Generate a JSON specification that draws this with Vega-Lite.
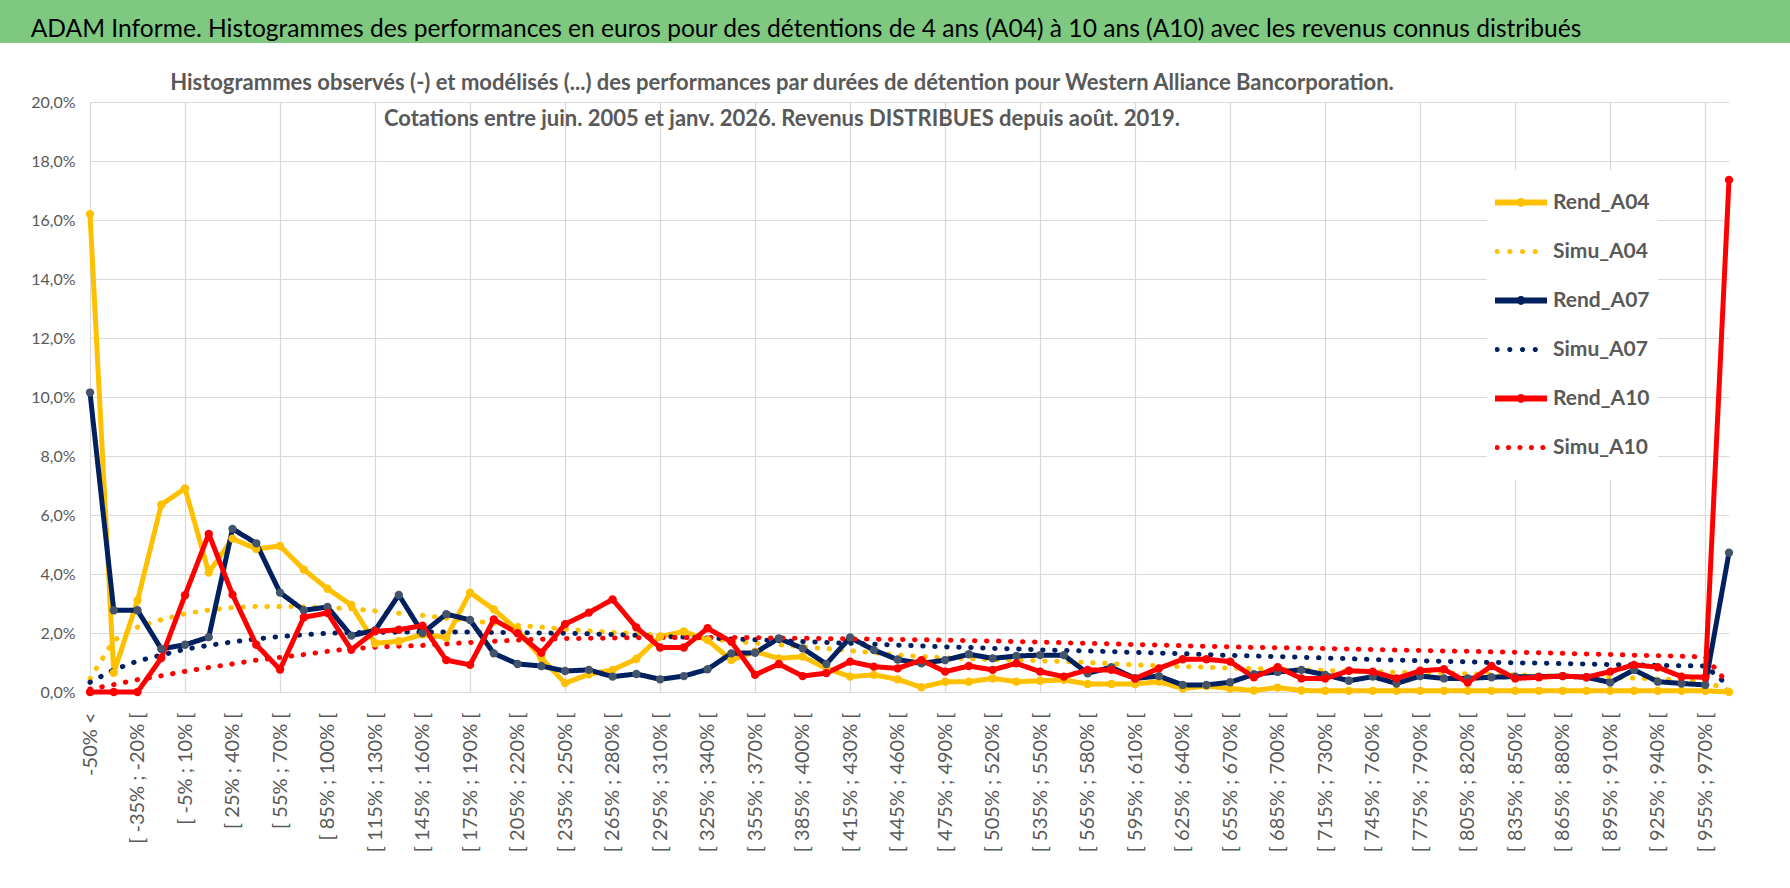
{
  "$schema": "https://vega.github.io/schema/vega-lite/v6.json",
  "padding": 0,
  "background": "white",
  "bounds": "flush",
  "spacing": 59,
  "config": {
    "view": {"stroke": null},
    "font": "Lato"
  },
  "vconcat": [
    {
      "width": 1790,
      "height": 43,
      "view": {"fill": "#7ec87f", "stroke": null},
      "data": {"values": [{"titre": "ADAM Informe. Histogrammes des performances en euros pour des détentions de 4 ans (A04) à 10 ans (A10) avec les revenus connus distribués"}]},
      "mark": {"type": "text", "font": "Lato", "fontSize": 24.6, "color": "#000000", "baseline": "alphabetic", "dx": -89, "dy": 15},
      "encoding": {"text": {"field": "titre"}}
    },
    {
      "width": 1790,
      "height": 590,
      "title": {
        "text": [
          "Histogrammes observés (-) et modélisés (...) des performances par durées de détention pour Western Alliance Bancorporation.",
          "Cotations entre juin. 2005 et janv. 2026. Revenus DISTRIBUES depuis août. 2019."
        ],
        "font": "Lato",
        "fontSize": 22,
        "fontWeight": "bold",
        "color": "#595959",
        "anchor": "middle",
        "frame": "group",
        "dx": -113,
        "dy": 59,
        "offset": 0,
        "baseline": "bottom",
        "lineHeight": 36
      },
      "data": {
        "values": [
          {"tranche": "-50% <", "Rend_A04": 16.2, "Simu_A04": 0.45, "Rend_A07": 10.15, "Simu_A07": 0.33, "Rend_A10": 0, "Simu_A10": 0.1},
          {"tranche": "[ -50% ; -35% [", "Rend_A04": 0.65, "Simu_A04": 1.75, "Rend_A07": 2.77, "Simu_A07": 0.75, "Rend_A10": 0, "Simu_A10": 0.25},
          {"tranche": "[ -35% ; -20% [", "Rend_A04": 3.1, "Simu_A04": 2.2, "Rend_A07": 2.77, "Simu_A07": 1.05, "Rend_A10": 0, "Simu_A10": 0.42},
          {"tranche": "[ -20% ; -5% [", "Rend_A04": 6.35, "Simu_A04": 2.45, "Rend_A07": 1.46, "Simu_A07": 1.25, "Rend_A10": 1.15, "Simu_A10": 0.55},
          {"tranche": "[ -5% ; 10% [", "Rend_A04": 6.9, "Simu_A04": 2.65, "Rend_A07": 1.6, "Simu_A07": 1.45, "Rend_A10": 3.28, "Simu_A10": 0.7},
          {"tranche": "[ 10% ; 25% [", "Rend_A04": 4.05, "Simu_A04": 2.78, "Rend_A07": 1.86, "Simu_A07": 1.58, "Rend_A10": 5.36, "Simu_A10": 0.83},
          {"tranche": "[ 25% ; 40% [", "Rend_A04": 5.2, "Simu_A04": 2.86, "Rend_A07": 5.53, "Simu_A07": 1.7, "Rend_A10": 3.3, "Simu_A10": 0.95},
          {"tranche": "[ 40% ; 55% [", "Rend_A04": 4.85, "Simu_A04": 2.9, "Rend_A07": 5.04, "Simu_A07": 1.8, "Rend_A10": 1.6, "Simu_A10": 1.08},
          {"tranche": "[ 55% ; 70% [", "Rend_A04": 4.95, "Simu_A04": 2.9, "Rend_A07": 3.37, "Simu_A07": 1.88, "Rend_A10": 0.76, "Simu_A10": 1.17},
          {"tranche": "[ 70% ; 85% [", "Rend_A04": 4.15, "Simu_A04": 2.89, "Rend_A07": 2.77, "Simu_A07": 1.94, "Rend_A10": 2.53, "Simu_A10": 1.27},
          {"tranche": "[ 85% ; 100% [", "Rend_A04": 3.5, "Simu_A04": 2.86, "Rend_A07": 2.88, "Simu_A07": 1.99, "Rend_A10": 2.68, "Simu_A10": 1.38},
          {"tranche": "[ 100% ; 115% [", "Rend_A04": 2.95, "Simu_A04": 2.82, "Rend_A07": 1.91, "Simu_A07": 2.01, "Rend_A10": 1.43, "Simu_A10": 1.47},
          {"tranche": "[ 115% ; 130% [", "Rend_A04": 1.65, "Simu_A04": 2.75, "Rend_A07": 2.09, "Simu_A07": 2.02, "Rend_A10": 2.06, "Simu_A10": 1.52},
          {"tranche": "[ 130% ; 145% [", "Rend_A04": 1.72, "Simu_A04": 2.67, "Rend_A07": 3.29, "Simu_A07": 2.03, "Rend_A10": 2.11, "Simu_A10": 1.55},
          {"tranche": "[ 145% ; 160% [", "Rend_A04": 1.95, "Simu_A04": 2.6, "Rend_A07": 2.0, "Simu_A07": 2.03, "Rend_A10": 2.25, "Simu_A10": 1.58},
          {"tranche": "[ 160% ; 175% [", "Rend_A04": 1.85, "Simu_A04": 2.5, "Rend_A07": 2.64, "Simu_A07": 2.03, "Rend_A10": 1.08, "Simu_A10": 1.63},
          {"tranche": "[ 175% ; 190% [", "Rend_A04": 3.37, "Simu_A04": 2.42, "Rend_A07": 2.44, "Simu_A07": 2.03, "Rend_A10": 0.92, "Simu_A10": 1.68},
          {"tranche": "[ 190% ; 205% [", "Rend_A04": 2.8, "Simu_A04": 2.33, "Rend_A07": 1.31, "Simu_A07": 2.02, "Rend_A10": 2.46, "Simu_A10": 1.72},
          {"tranche": "[ 205% ; 220% [", "Rend_A04": 2.1, "Simu_A04": 2.26, "Rend_A07": 0.95, "Simu_A07": 2.01, "Rend_A10": 1.99, "Simu_A10": 1.76},
          {"tranche": "[ 220% ; 235% [", "Rend_A04": 1.15, "Simu_A04": 2.2, "Rend_A07": 0.88, "Simu_A07": 2.0, "Rend_A10": 1.33, "Simu_A10": 1.79},
          {"tranche": "[ 235% ; 250% [", "Rend_A04": 0.3, "Simu_A04": 2.13, "Rend_A07": 0.71, "Simu_A07": 1.99, "Rend_A10": 2.3, "Simu_A10": 1.81},
          {"tranche": "[ 250% ; 265% [", "Rend_A04": 0.6, "Simu_A04": 2.07, "Rend_A07": 0.75, "Simu_A07": 1.97, "Rend_A10": 2.69, "Simu_A10": 1.82},
          {"tranche": "[ 265% ; 280% [", "Rend_A04": 0.75, "Simu_A04": 2.02, "Rend_A07": 0.52, "Simu_A07": 1.95, "Rend_A10": 3.14, "Simu_A10": 1.83},
          {"tranche": "[ 280% ; 295% [", "Rend_A04": 1.12, "Simu_A04": 1.98, "Rend_A07": 0.61, "Simu_A07": 1.92, "Rend_A10": 2.19, "Simu_A10": 1.84},
          {"tranche": "[ 295% ; 310% [", "Rend_A04": 1.88, "Simu_A04": 1.93, "Rend_A07": 0.43, "Simu_A07": 1.89, "Rend_A10": 1.51, "Simu_A10": 1.85},
          {"tranche": "[ 310% ; 325% [", "Rend_A04": 2.05, "Simu_A04": 1.87, "Rend_A07": 0.54, "Simu_A07": 1.86, "Rend_A10": 1.51, "Simu_A10": 1.85},
          {"tranche": "[ 325% ; 340% [", "Rend_A04": 1.76, "Simu_A04": 1.8, "Rend_A07": 0.77, "Simu_A07": 1.83, "Rend_A10": 2.16, "Simu_A10": 1.85},
          {"tranche": "[ 340% ; 355% [", "Rend_A04": 1.08, "Simu_A04": 1.72, "Rend_A07": 1.31, "Simu_A07": 1.8, "Rend_A10": 1.7, "Simu_A10": 1.85},
          {"tranche": "[ 355% ; 370% [", "Rend_A04": 1.37, "Simu_A04": 1.66, "Rend_A07": 1.33, "Simu_A07": 1.77, "Rend_A10": 0.58, "Simu_A10": 1.84},
          {"tranche": "[ 370% ; 385% [", "Rend_A04": 1.14, "Simu_A04": 1.6, "Rend_A07": 1.82, "Simu_A07": 1.74, "Rend_A10": 0.95, "Simu_A10": 1.83},
          {"tranche": "[ 385% ; 400% [", "Rend_A04": 1.2, "Simu_A04": 1.53, "Rend_A07": 1.48, "Simu_A07": 1.71, "Rend_A10": 0.54, "Simu_A10": 1.82},
          {"tranche": "[ 400% ; 415% [", "Rend_A04": 0.8, "Simu_A04": 1.47, "Rend_A07": 0.95, "Simu_A07": 1.68, "Rend_A10": 0.64, "Simu_A10": 1.81},
          {"tranche": "[ 415% ; 430% [", "Rend_A04": 0.52, "Simu_A04": 1.4, "Rend_A07": 1.85, "Simu_A07": 1.65, "Rend_A10": 1.03, "Simu_A10": 1.8},
          {"tranche": "[ 430% ; 445% [", "Rend_A04": 0.58, "Simu_A04": 1.33, "Rend_A07": 1.42, "Simu_A07": 1.62, "Rend_A10": 0.86, "Simu_A10": 1.79},
          {"tranche": "[ 445% ; 460% [", "Rend_A04": 0.43, "Simu_A04": 1.25, "Rend_A07": 1.1, "Simu_A07": 1.59, "Rend_A10": 0.8, "Simu_A10": 1.78},
          {"tranche": "[ 460% ; 475% [", "Rend_A04": 0.16, "Simu_A04": 1.2, "Rend_A07": 0.97, "Simu_A07": 1.56, "Rend_A10": 1.08, "Simu_A10": 1.77},
          {"tranche": "[ 475% ; 490% [", "Rend_A04": 0.35, "Simu_A04": 1.16, "Rend_A07": 1.08, "Simu_A07": 1.53, "Rend_A10": 0.69, "Simu_A10": 1.76},
          {"tranche": "[ 490% ; 505% [", "Rend_A04": 0.35, "Simu_A04": 1.13, "Rend_A07": 1.28, "Simu_A07": 1.51, "Rend_A10": 0.88, "Simu_A10": 1.74},
          {"tranche": "[ 505% ; 520% [", "Rend_A04": 0.46, "Simu_A04": 1.1, "Rend_A07": 1.14, "Simu_A07": 1.48, "Rend_A10": 0.75, "Simu_A10": 1.73},
          {"tranche": "[ 520% ; 535% [", "Rend_A04": 0.35, "Simu_A04": 1.08, "Rend_A07": 1.22, "Simu_A07": 1.46, "Rend_A10": 0.97, "Simu_A10": 1.71},
          {"tranche": "[ 535% ; 550% [", "Rend_A04": 0.38, "Simu_A04": 1.06, "Rend_A07": 1.25, "Simu_A07": 1.43, "Rend_A10": 0.69, "Simu_A10": 1.69},
          {"tranche": "[ 550% ; 565% [", "Rend_A04": 0.41, "Simu_A04": 1.03, "Rend_A07": 1.25, "Simu_A07": 1.41, "Rend_A10": 0.52, "Simu_A10": 1.67},
          {"tranche": "[ 565% ; 580% [", "Rend_A04": 0.27, "Simu_A04": 1.0, "Rend_A07": 0.63, "Simu_A07": 1.39, "Rend_A10": 0.75, "Simu_A10": 1.65},
          {"tranche": "[ 580% ; 595% [", "Rend_A04": 0.27, "Simu_A04": 0.96, "Rend_A07": 0.84, "Simu_A07": 1.37, "Rend_A10": 0.75, "Simu_A10": 1.63},
          {"tranche": "[ 595% ; 610% [", "Rend_A04": 0.27, "Simu_A04": 0.92, "Rend_A07": 0.46, "Simu_A07": 1.34, "Rend_A10": 0.46, "Simu_A10": 1.61},
          {"tranche": "[ 610% ; 625% [", "Rend_A04": 0.35, "Simu_A04": 0.89, "Rend_A07": 0.54, "Simu_A07": 1.32, "Rend_A10": 0.8, "Simu_A10": 1.59},
          {"tranche": "[ 625% ; 640% [", "Rend_A04": 0.12, "Simu_A04": 0.86, "Rend_A07": 0.24, "Simu_A07": 1.3, "Rend_A10": 1.11, "Simu_A10": 1.57},
          {"tranche": "[ 640% ; 655% [", "Rend_A04": 0.2, "Simu_A04": 0.84, "Rend_A07": 0.24, "Simu_A07": 1.27, "Rend_A10": 1.11, "Simu_A10": 1.55},
          {"tranche": "[ 655% ; 670% [", "Rend_A04": 0.12, "Simu_A04": 0.81, "Rend_A07": 0.33, "Simu_A07": 1.24, "Rend_A10": 1.03, "Simu_A10": 1.53},
          {"tranche": "[ 670% ; 685% [", "Rend_A04": 0.05, "Simu_A04": 0.79, "Rend_A07": 0.6, "Simu_A07": 1.22, "Rend_A10": 0.5, "Simu_A10": 1.51},
          {"tranche": "[ 685% ; 700% [", "Rend_A04": 0.15, "Simu_A04": 0.77, "Rend_A07": 0.68, "Simu_A07": 1.2, "Rend_A10": 0.84, "Simu_A10": 1.5},
          {"tranche": "[ 700% ; 715% [", "Rend_A04": 0.05, "Simu_A04": 0.75, "Rend_A07": 0.75, "Simu_A07": 1.18, "Rend_A10": 0.46, "Simu_A10": 1.49},
          {"tranche": "[ 715% ; 730% [", "Rend_A04": 0.04, "Simu_A04": 0.73, "Rend_A07": 0.58, "Simu_A07": 1.15, "Rend_A10": 0.46, "Simu_A10": 1.47},
          {"tranche": "[ 730% ; 745% [", "Rend_A04": 0.04, "Simu_A04": 0.71, "Rend_A07": 0.38, "Simu_A07": 1.13, "Rend_A10": 0.72, "Simu_A10": 1.46},
          {"tranche": "[ 745% ; 760% [", "Rend_A04": 0.04, "Simu_A04": 0.69, "Rend_A07": 0.52, "Simu_A07": 1.1, "Rend_A10": 0.69, "Simu_A10": 1.44},
          {"tranche": "[ 760% ; 775% [", "Rend_A04": 0.04, "Simu_A04": 0.67, "Rend_A07": 0.29, "Simu_A07": 1.08, "Rend_A10": 0.46, "Simu_A10": 1.42},
          {"tranche": "[ 775% ; 790% [", "Rend_A04": 0.04, "Simu_A04": 0.65, "Rend_A07": 0.54, "Simu_A07": 1.06, "Rend_A10": 0.72, "Simu_A10": 1.41},
          {"tranche": "[ 790% ; 805% [", "Rend_A04": 0.04, "Simu_A04": 0.64, "Rend_A07": 0.46, "Simu_A07": 1.04, "Rend_A10": 0.77, "Simu_A10": 1.39},
          {"tranche": "[ 805% ; 820% [", "Rend_A04": 0.04, "Simu_A04": 0.62, "Rend_A07": 0.46, "Simu_A07": 1.02, "Rend_A10": 0.32, "Simu_A10": 1.38},
          {"tranche": "[ 820% ; 835% [", "Rend_A04": 0.04, "Simu_A04": 0.6, "Rend_A07": 0.5, "Simu_A07": 1.0, "Rend_A10": 0.88, "Simu_A10": 1.36},
          {"tranche": "[ 835% ; 850% [", "Rend_A04": 0.04, "Simu_A04": 0.58, "Rend_A07": 0.52, "Simu_A07": 0.99, "Rend_A10": 0.46, "Simu_A10": 1.35},
          {"tranche": "[ 850% ; 865% [", "Rend_A04": 0.04, "Simu_A04": 0.56, "Rend_A07": 0.52, "Simu_A07": 0.98, "Rend_A10": 0.5, "Simu_A10": 1.33},
          {"tranche": "[ 865% ; 880% [", "Rend_A04": 0.04, "Simu_A04": 0.54, "Rend_A07": 0.54, "Simu_A07": 0.96, "Rend_A10": 0.54, "Simu_A10": 1.31},
          {"tranche": "[ 880% ; 895% [", "Rend_A04": 0.04, "Simu_A04": 0.52, "Rend_A07": 0.5, "Simu_A07": 0.95, "Rend_A10": 0.5, "Simu_A10": 1.29},
          {"tranche": "[ 895% ; 910% [", "Rend_A04": 0.04, "Simu_A04": 0.5, "Rend_A07": 0.32, "Simu_A07": 0.93, "Rend_A10": 0.69, "Simu_A10": 1.27},
          {"tranche": "[ 910% ; 925% [", "Rend_A04": 0.04, "Simu_A04": 0.47, "Rend_A07": 0.75, "Simu_A07": 0.92, "Rend_A10": 0.92, "Simu_A10": 1.25},
          {"tranche": "[ 925% ; 940% [", "Rend_A04": 0.04, "Simu_A04": 0.44, "Rend_A07": 0.35, "Simu_A07": 0.9, "Rend_A10": 0.84, "Simu_A10": 1.23},
          {"tranche": "[ 940% ; 955% [", "Rend_A04": 0.04, "Simu_A04": 0.4, "Rend_A07": 0.29, "Simu_A07": 0.89, "Rend_A10": 0.52, "Simu_A10": 1.21},
          {"tranche": "[ 955% ; 970% [", "Rend_A04": 0.04, "Simu_A04": 0.35, "Rend_A07": 0.24, "Simu_A07": 0.88, "Rend_A10": 0.5, "Simu_A10": 1.19},
          {"tranche": "> 970%", "Rend_A04": 0, "Simu_A04": 0.05, "Rend_A07": 4.72, "Simu_A07": 0.2, "Rend_A10": 17.36, "Simu_A10": 0.25}
        ]
      },
      "transform": [
        {"fold": ["Rend_A04", "Simu_A04", "Rend_A07", "Simu_A07", "Rend_A10", "Simu_A10"], "as": ["serie", "valeur"]}
      ],
      "layer": [
        {
          "mark": {"type": "line", "strokeWidth": 5, "strokeCap": "round", "strokeJoin": "round"},
          "encoding": {
            "x": {
              "field": "tranche",
              "type": "ordinal",
              "sort": null,
              "scale": {"type": "point", "padding": 0, "range": [90, 1729]},
              "axis": {
                "orient": "bottom",
                "title": null,
                "values": ["-50% <", "[ -35% ; -20% [", "[ -5% ; 10% [", "[ 25% ; 40% [", "[ 55% ; 70% [", "[ 85% ; 100% [", "[ 115% ; 130% [", "[ 145% ; 160% [", "[ 175% ; 190% [", "[ 205% ; 220% [", "[ 235% ; 250% [", "[ 265% ; 280% [", "[ 295% ; 310% [", "[ 325% ; 340% [", "[ 355% ; 370% [", "[ 385% ; 400% [", "[ 415% ; 430% [", "[ 445% ; 460% [", "[ 475% ; 490% [", "[ 505% ; 520% [", "[ 535% ; 550% [", "[ 565% ; 580% [", "[ 595% ; 610% [", "[ 625% ; 640% [", "[ 655% ; 670% [", "[ 685% ; 700% [", "[ 715% ; 730% [", "[ 745% ; 760% [", "[ 775% ; 790% [", "[ 805% ; 820% [", "[ 835% ; 850% [", "[ 865% ; 880% [", "[ 895% ; 910% [", "[ 925% ; 940% [", "[ 955% ; 970% ["],
                "labelAngle": -90,
                "grid": false,
                "ticks": false,
                "tickSize": 0,
                "domain": false,
                "labelPadding": 20,
                "labelFont": "Lato",
                "labelFontSize": 20,
                "labelColor": "#595959",
                "labelOverlap": false,
                "labelLimit": 300
              }
            },
            "y": {
              "field": "valeur",
              "type": "quantitative",
              "scale": {"domain": [0, 20], "nice": false},
              "axis": {
                "title": null,
                "offset": -90,
                "values": [0, 2, 4, 6, 8, 10, 12, 14, 16, 18, 20],
                "labelExpr": "replace(format(datum.value, '.1f'), '.', ',') + '%'",
                "grid": true,
                "gridColor": "#d9d9d9",
                "gridWidth": 1.2,
                "domain": false,
                "ticks": false,
                "labelPadding": 15,
                "labelFont": "Lato",
                "labelFontSize": 16,
                "labelColor": "#595959"
              }
            },
            "color": {
              "field": "serie",
              "type": "nominal",
              "scale": {
                "domain": ["Rend_A04", "Simu_A04", "Rend_A07", "Simu_A07", "Rend_A10", "Simu_A10"],
                "range": ["#FFC000", "#FFC000", "#002060", "#002060", "#FF0000", "#FF0000"]
              },
              "legend": null
            },
            "strokeDash": {
              "field": "serie",
              "type": "nominal",
              "scale": {
                "domain": ["Rend_A04", "Simu_A04", "Rend_A07", "Simu_A07", "Rend_A10", "Simu_A10"],
                "range": [[1, 0], [0.5, 11.5], [1, 0], [0.5, 11.5], [1, 0], [0.5, 11.5]]
              },
              "legend": null
            }
          }
        },
        {
          "transform": [{"filter": "indexof(datum.serie, 'Rend') == 0"}],
          "mark": {"type": "point", "filled": true, "size": 70, "opacity": 1, "strokeWidth": 0},
          "encoding": {
            "x": {
              "field": "tranche",
              "type": "ordinal",
              "sort": null,
              "axis": {
                "orient": "top",
                "title": null,
                "values": ["-50% <", "[ -5% ; 10% [", "[ 55% ; 70% [", "[ 115% ; 130% [", "[ 175% ; 190% [", "[ 235% ; 250% [", "[ 295% ; 310% [", "[ 355% ; 370% [", "[ 415% ; 430% [", "[ 475% ; 490% [", "[ 535% ; 550% [", "[ 595% ; 610% [", "[ 655% ; 670% [", "[ 715% ; 730% [", "[ 775% ; 790% [", "[ 835% ; 850% [", "[ 895% ; 910% [", "[ 955% ; 970% ["],
                "labels": false,
                "ticks": false,
                "domain": false,
                "grid": true,
                "gridColor": "#d9d9d9",
                "gridWidth": 1.2
              }
            },
            "y": {"field": "valeur", "type": "quantitative"},
            "fill": {
              "field": "serie",
              "type": "nominal",
              "scale": {"domain": ["Rend_A04", "Rend_A07", "Rend_A10"], "range": ["#FFC000", "#44546A", "#FF0000"]},
              "legend": null
            }
          }
        },
        {
          "mark": {"type": "point", "filled": true, "opacity": 0},
          "encoding": {
            "fill": {
              "field": "serie",
              "type": "nominal",
              "scale": {
                "domain": ["Rend_A04", "Simu_A04", "Rend_A07", "Simu_A07", "Rend_A10", "Simu_A10"],
                "range": ["#FFC000", "#FFC000", "#002060", "#002060", "#FF0000", "#FF0000"]
              },
              "legend": {
                "orient": "none",
                "legendX": 1487,
                "legendY": 68,
                "title": null,
                "padding": 8,
                "fillColor": "white",
                "symbolSize": 2704,
                "symbolStrokeWidth": 0,
                "symbolOpacity": 1,
                "labelFont": "Lato",
                "labelFontSize": 21,
                "labelFontWeight": "bold",
                "labelColor": "#595959",
                "labelOffset": 6,
                "labelLimit": 300,
                "clipHeight": 49,
                "rowPadding": 0
              }
            },
            "shape": {
              "field": "serie",
              "type": "nominal",
              "scale": {
                "domain": ["Rend_A04", "Simu_A04", "Rend_A07", "Simu_A07", "Rend_A10", "Simu_A10"],
                "range": [
                  "M-1,-0.115H1V0.115H-1Z M-0.17,0A0.17,0.17,0,1,1,0.17,0A0.17,0.17,0,1,1,-0.17,0Z",
                  "M-1.02,0A0.1,0.1,0,1,1,-0.82,0A0.1,0.1,0,1,1,-1.02,0Z M-0.53,0A0.1,0.1,0,1,1,-0.33,0A0.1,0.1,0,1,1,-0.53,0Z M-0.04,0A0.1,0.1,0,1,1,0.16,0A0.1,0.1,0,1,1,-0.04,0Z M0.45,0A0.1,0.1,0,1,1,0.65,0A0.1,0.1,0,1,1,0.45,0Z",
                  "M-1,-0.115H1V0.115H-1Z M-0.17,0A0.17,0.17,0,1,1,0.17,0A0.17,0.17,0,1,1,-0.17,0Z",
                  "M-1.02,0A0.1,0.1,0,1,1,-0.82,0A0.1,0.1,0,1,1,-1.02,0Z M-0.53,0A0.1,0.1,0,1,1,-0.33,0A0.1,0.1,0,1,1,-0.53,0Z M-0.04,0A0.1,0.1,0,1,1,0.16,0A0.1,0.1,0,1,1,-0.04,0Z M0.45,0A0.1,0.1,0,1,1,0.65,0A0.1,0.1,0,1,1,0.45,0Z",
                  "M-1,-0.115H1V0.115H-1Z M-0.17,0A0.17,0.17,0,1,1,0.17,0A0.17,0.17,0,1,1,-0.17,0Z",
                  "M-1.02,0A0.1,0.1,0,1,1,-0.82,0A0.1,0.1,0,1,1,-1.02,0Z M-0.58,0A0.1,0.1,0,1,1,-0.38,0A0.1,0.1,0,1,1,-0.58,0Z M-0.14,0A0.1,0.1,0,1,1,0.06,0A0.1,0.1,0,1,1,-0.14,0Z M0.3,0A0.1,0.1,0,1,1,0.5,0A0.1,0.1,0,1,1,0.3,0Z M0.74,0A0.1,0.1,0,1,1,0.94,0A0.1,0.1,0,1,1,0.74,0Z"
                ]
              },
              "legend": {
                "orient": "none",
                "legendX": 1487,
                "legendY": 68,
                "title": null,
                "padding": 8,
                "fillColor": "white",
                "symbolSize": 2704,
                "symbolStrokeWidth": 0,
                "symbolOpacity": 1,
                "labelFont": "Lato",
                "labelFontSize": 21,
                "labelFontWeight": "bold",
                "labelColor": "#595959",
                "labelOffset": 6,
                "labelLimit": 300,
                "clipHeight": 49,
                "rowPadding": 0
              }
            }
          }
        }
      ],
      "resolve": {
        "axis": {"x": "independent"},
        "scale": {"fill": "independent", "shape": "independent"},
        "legend": {"fill": "independent", "shape": "independent"}
      }
    }
  ]
}
